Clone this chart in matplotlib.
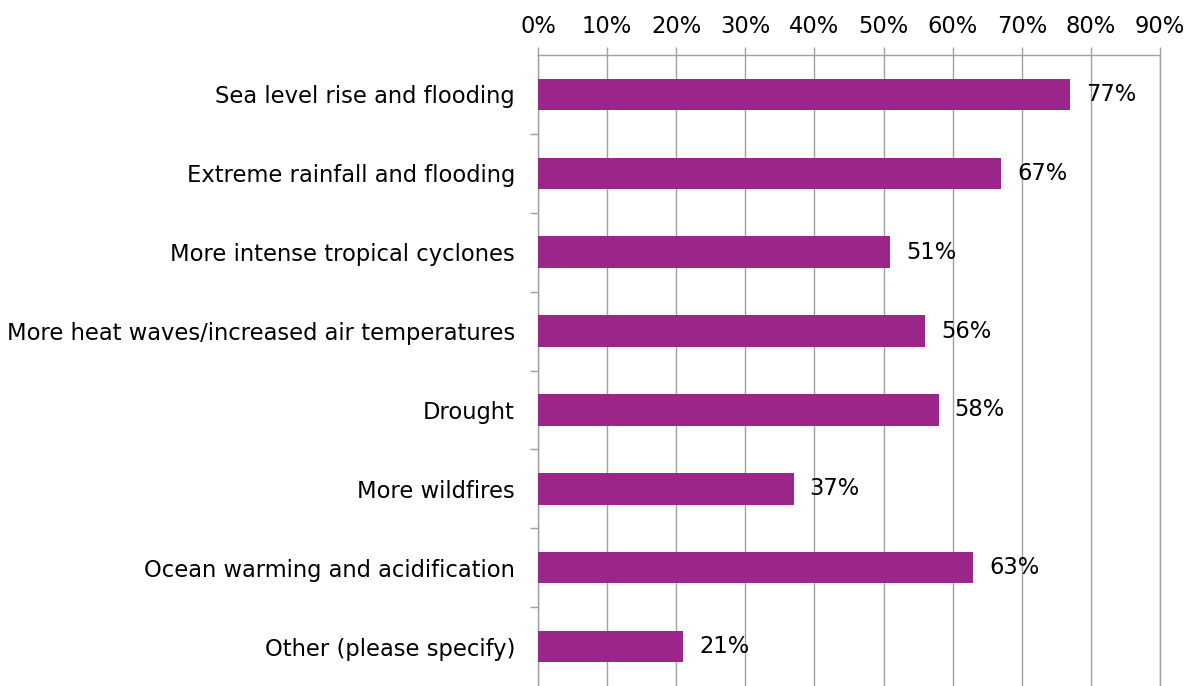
import matplotlib.pyplot as plt
import numpy as np

categories = ["Sea level rise and flooding",
              "Extreme rainfall and flooding",
              "More intense tropical cyclones",
              "More heat waves/increased air temperatures",
              "Drought",
              "More wildfires",
              "Ocean warming and acidification",
              "Other (please specify)"]
values = [77, 67, 51, 56, 58, 37, 63, 21]
xticks = [0, 10, 20, 30, 40, 50, 60, 70, 80, 90]

plt.rcParams['font.family'] = ['DejaVu Sans']
fs = 16.3

fig = plt.figure(figsize=(11.93, 6.86), dpi=100)
ax = fig.add_axes([538 / 1193, 0, (1160 - 538) / 1193, (686 - 55) / 686])

y = np.arange(len(categories))
ax.barh(y, values, height=0.4, color='#9B2589', zorder=3)
for yi, v in zip(y, values):
    ax.text(v + 2.3, yi, "%d%%" % v, va='center', ha='left', fontsize=fs, zorder=4)

ax.set_xlim(0, 90)
ax.set_ylim(len(categories) - 0.5, -0.5)
ax.xaxis.tick_top()
ax.set_xticks(xticks)
ax.set_xticklabels(["%d%%" % t for t in xticks], fontsize=fs)
ax.tick_params(axis='x', length=6, width=1, color='#A0A0A0', pad=6)
ax.grid(axis='x', color='#A0A0A0', linewidth=1, zorder=0)

ax.set_yticks(y)
ax.set_yticklabels(categories, fontsize=fs)
ax.set_yticks(np.arange(len(categories) - 1) + 0.5, minor=True)
ax.tick_params(axis='y', which='major', length=0, pad=16.5)
ax.tick_params(axis='y', which='minor', length=6, width=1, color='#A0A0A0')

ax.spines['bottom'].set_visible(False)
for s in ['left', 'top', 'right']:
    ax.spines[s].set_color('#A0A0A0')
    ax.spines[s].set_linewidth(1)

fig.savefig('out.png', dpi=100)
